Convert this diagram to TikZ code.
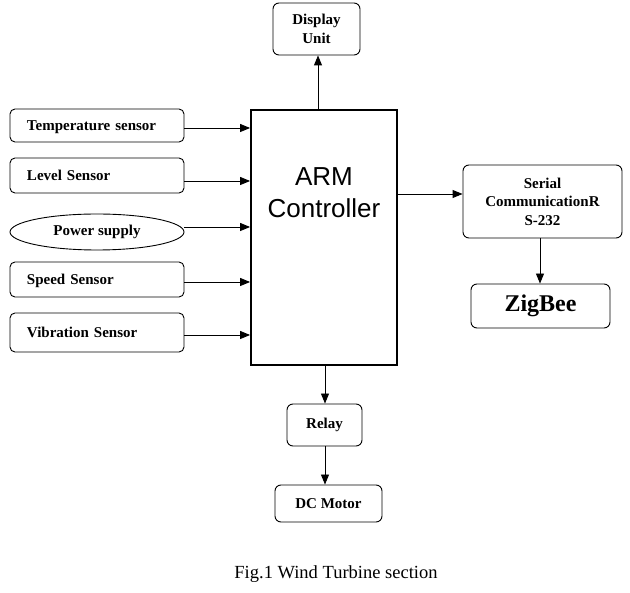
\documentclass[tikz,border=0pt]{standalone}
\usepackage{fontspec}
\setmainfont{Liberation Serif}
\newfontfamily\armfont{Liberation Sans}
\usetikzlibrary{arrows.meta,shapes.geometric}

\tikzset{
  sensorbox/.style={draw, rounded corners=5pt, line width=0.9pt, minimum width=174pt,
    minimum height=33pt, text width=140pt, inner xsep=17pt, align=left,
    text depth=0pt, font=\fontsize{15}{18.5}\selectfont\bfseries},
  unitbox/.style={draw, rounded corners=6pt, line width=0.9pt, align=center,
    font=\fontsize{15}{18.5}\selectfont\bfseries},
  flow/.style={line width=0.9pt, -{Triangle[length=10pt,width=8pt]}}
}

\begin{document}
\begin{tikzpicture}[x=1pt, y=-1pt]

    \useasboundingbox (0,0) rectangle (630,593);

    % 中央のコントローラ
    \node[draw, line width=1.8pt, minimum width=146pt, minimum height=255pt,
      inner sep=0pt] (arm) at (324,237.5) {};
    \node[font=\armfont\fontsize{26}{32}\selectfont, align=center] (armtext) at (324,193)
      {ARM\\Controller};

    % 入力側
    \node[sensorbox] (temp) at (97,125.5) {Temperature sensor};
    \node[sensorbox, minimum height=35pt] (level) at (97,175.5) {Level Sensor};
    \node[draw, ellipse, line width=0.9pt, minimum width=174pt, minimum height=36pt,
      inner sep=0pt, font=\fontsize{15}{18.5}\selectfont\bfseries] (power) at (97,232) {Power supply};
    \node[sensorbox, minimum height=35pt] (speed) at (97,279.5) {Speed Sensor};
    \node[sensorbox, minimum height=39pt] (vib) at (97,332.5) {Vibration Sensor};

    % 出力側
    \node[unitbox, minimum width=87pt, minimum height=52pt] (disp) at (316.5,29) {Display\\Unit};
    \node[unitbox, minimum width=159pt, minimum height=73pt] (serial) at (542.5,201.5)
      {Serial\\CommunicationR\\S-232};
    \node[unitbox, minimum width=139pt, minimum height=44pt,
      font=\fontsize{24}{28}\selectfont\bfseries] (zig) at (540.5,306) {ZigBee};
    \node[unitbox, minimum width=75pt, minimum height=42pt] (relay) at (324.5,425) {Relay};
    \node[unitbox, minimum width=107pt, minimum height=37pt] (motor) at (328.5,503.5) {DC Motor};

    % 矢印
    \draw[flow] (temp.east |- 0,128) -- (arm.west |- 0,128);
    \draw[flow] (level.east |- 0,181) -- (arm.west |- 0,181);
    \draw[flow] (power.east |- 0,227) -- (arm.west |- 0,227);
    \draw[flow] (speed.east |- 0,282) -- (arm.west |- 0,282);
    \draw[flow] (vib.east |- 0,335) -- (arm.west |- 0,335);
    \draw[flow] (arm.north -| 318,0) -- (disp.south -| 318,0);
    \draw[flow] (arm.east |- 0,194) -- (serial.west |- 0,194);
    \draw[flow] (serial.south -| 540,0) -- (zig.north -| 540,0);
    \draw[flow] (arm.south -| 325,0) -- (relay.north -| 325,0);
    \draw[flow] (relay.south -| 325,0) -- (motor.north -| 325,0);

    % 図番号
    \node[font=\fontsize{18.5}{22}\selectfont] (cap) at (336,574) {Fig.1 Wind Turbine section};

\end{tikzpicture}
\end{document}
